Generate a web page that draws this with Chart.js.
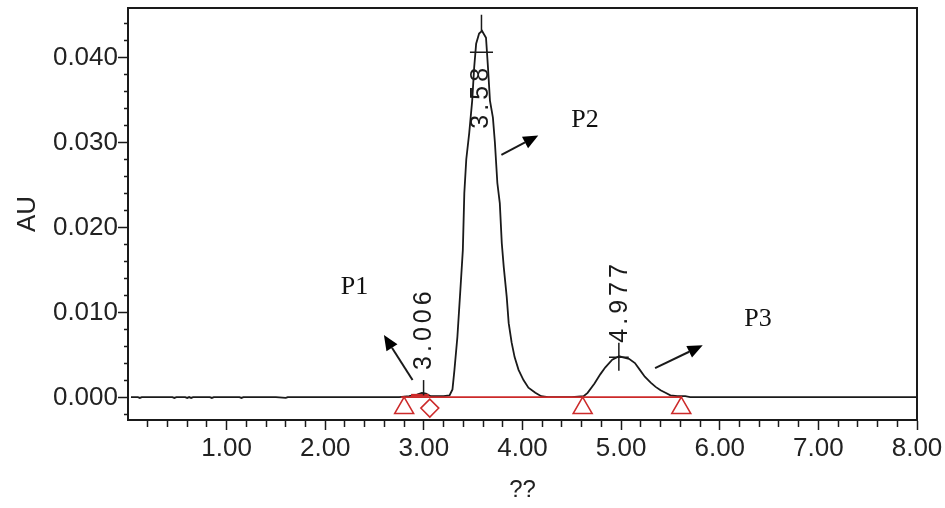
<!DOCTYPE html>
<html>
<head>
<meta charset="utf-8">
<script src="https://cdn.jsdelivr.net/npm/chart.js@4.4.0/dist/chart.umd.min.js"></script>
<style>
html,body{margin:0;padding:0;background:#fff;}
canvas{display:block;}
</style>
</head>
<body>
<canvas id="c" width="945" height="508"></canvas>
<script>
// ---------- data ----------
const timeMin = [0.03,0.10,0.12,0.14,0.45,0.47,0.49,0.58,0.60,0.62,0.64,0.66,0.83,0.85,0.87,1.13,1.15,1.17,1.50,1.60,1.62,2.00,2.50,2.75,2.85,2.93,2.98,3.02,3.07,3.12,3.20,3.26,3.29,3.31,3.34,3.37,3.395,3.41,3.43,3.46,3.49,3.51,3.53,3.56,3.59,3.63,3.65,3.67,3.70,3.72,3.745,3.77,3.79,3.81,3.84,3.86,3.89,3.92,3.96,4.01,4.06,4.13,4.19,4.26,4.50,4.62,4.66,4.73,4.79,4.84,4.91,4.98,5.04,5.08,5.14,5.19,5.24,5.30,5.35,5.40,5.45,5.50,5.57,5.65,5.70,8.00];
const absorbanceAU = [0,0,-0.0001,0,0,-0.0001,0,0,-0.0001,0,-0.0001,0,0,-0.0001,0,0,-0.0001,0,0,-0.0001,0,0,0,0,0.0001,0.0003,0.0005,0.0004,0.0001,0.0001,0.0001,0.0002,0.0009,0.0032,0.0071,0.0126,0.0173,0.0240,0.0280,0.0311,0.0349,0.0388,0.0416,0.0428,0.0431,0.0423,0.0388,0.0349,0.0329,0.0300,0.0252,0.0228,0.0181,0.0153,0.0118,0.0087,0.0064,0.0047,0.0032,0.0020,0.0011,0.0005,0.0001,0,0,0.0001,0.0005,0.0016,0.0027,0.0035,0.0044,0.0048,0.0046,0.0045,0.0040,0.0032,0.0024,0.0017,0.0012,0.0008,0.0005,0.0002,0.0001,0.0001,0,0];

const baselineTime = [2.77, 5.62];
const baselineAU = [0, 0];
const baselineBoldTime = [2.87, 3.05];
const baselineBoldAU = [0.0002, 0.0002];
const triangleTime = [2.80, 4.61, 5.61];
const triangleAU = [-0.0013, -0.0013, -0.0013];
const diamondTime = [3.06];
const diamondAU = [-0.0013];

const xTickValues = [1, 2, 3, 4, 5, 6, 7, 8];
const xTickLabels = ['1.00', '2.00', '3.00', '4.00', '5.00', '6.00', '7.00', '8.00'];
const xMinorStep = 0.2;
const yTickValues = [0, 0.01, 0.02, 0.03, 0.04];
const yTickLabels = ['0.000', '0.010', '0.020', '0.030', '0.040'];
const yMinorStep = 0.002;

const peakTagText = ['3.006', '3.58', '4.977'];
const peakTagTime = [3.00, 3.58, 4.99];
const peakTagAU = [0.0032, 0.0316, 0.0064];

const peakNameText = ['P1', 'P2', 'P3'];
const peakNameTime = [2.296, 4.633, 6.388];
const peakNameAU = [0.0129, 0.0326, 0.0092];

// ---------- helpers ----------
const near = (a, b) => Math.abs(a - b) < 1e-7;
const isMajor = (v, list) => list.some(t => near(t, v));

function buildTicks(min, max, step) {
  const out = [];
  const n0 = Math.ceil(min / step - 1e-9), n1 = Math.floor(max / step + 1e-9);
  for (let n = n0; n <= n1; n++) out.push({ value: +(n * step).toFixed(6) });
  return out;
}

const ink = '#1a1a1a';
const red = '#cc2a2a';

const annotations = {
  peakTicks: [
    { x: 2.997, y1: 0.0002, y2: 0.0020 },
    { x: 3.584, y1: 0.0431, y2: 0.0450, crossY: 0.0406, half: 0.117 },
    { x: 4.977, y1: 0.0031, y2: 0.0064, crossY: 0.0047, half: 0.10 }
  ],
  arrows: [
    { x1: 2.885, y1: 0.0020, x2: 2.595, y2: 0.0073 },
    { x1: 3.786, y1: 0.0285, x2: 4.160, y2: 0.0308 },
    { x1: 5.344, y1: 0.0034, x2: 5.827, y2: 0.0061 }
  ]
};

const overlay = {
  id: 'overlay',
  afterDraw(chart) {
    const { ctx, chartArea: a, scales: { x, y } } = chart;
    ctx.save();
    // frame
    ctx.strokeStyle = ink;
    ctx.lineWidth = 2;
    ctx.strokeRect(a.left, a.top, a.right - a.left, a.bottom - a.top);

    // peak apex marks
    ctx.lineWidth = 1.5;
    annotations.peakTicks.forEach(p => {
      const px = x.getPixelForValue(p.x);
      ctx.beginPath();
      ctx.moveTo(px, y.getPixelForValue(p.y1));
      ctx.lineTo(px, y.getPixelForValue(p.y2));
      if (p.crossY !== undefined) {
        const cy = y.getPixelForValue(p.crossY);
        ctx.moveTo(x.getPixelForValue(p.x - p.half), cy);
        ctx.lineTo(x.getPixelForValue(p.x + p.half), cy);
      }
      ctx.stroke();
    });

    // retention time tags (rotated)
    ctx.fillStyle = ink;
    ctx.font = '25px "Liberation Sans", Arial, sans-serif';
    if ('letterSpacing' in ctx) ctx.letterSpacing = '4px';
    ctx.textAlign = 'left';
    ctx.textBaseline = 'middle';
    peakTagText.forEach((t, i) => {
      ctx.save();
      ctx.translate(x.getPixelForValue(peakTagTime[i]), y.getPixelForValue(peakTagAU[i]));
      ctx.rotate(-Math.PI / 2);
      ctx.fillText(t, 0, 0);
      ctx.restore();
    });
    if ('letterSpacing' in ctx) ctx.letterSpacing = '0px';

    // arrows
    annotations.arrows.forEach(r => {
      const x1 = x.getPixelForValue(r.x1), y1 = y.getPixelForValue(r.y1);
      const x2 = x.getPixelForValue(r.x2), y2 = y.getPixelForValue(r.y2);
      const ang = Math.atan2(y2 - y1, x2 - x1);
      const L = 15, W = 6.5;
      const bx = x2 - L * Math.cos(ang), by = y2 - L * Math.sin(ang);
      ctx.strokeStyle = ink;
      ctx.lineWidth = 2;
      ctx.beginPath();
      ctx.moveTo(x1, y1);
      ctx.lineTo(bx, by);
      ctx.stroke();
      ctx.beginPath();
      ctx.moveTo(x2, y2);
      ctx.lineTo(bx + W * Math.sin(ang), by - W * Math.cos(ang));
      ctx.lineTo(bx - W * Math.sin(ang), by + W * Math.cos(ang));
      ctx.closePath();
      ctx.fillStyle = '#000';
      ctx.fill();
    });

    // peak names
    ctx.fillStyle = '#111';
    ctx.font = '26px "Liberation Serif", "Times New Roman", serif';
    ctx.textAlign = 'center';
    ctx.textBaseline = 'middle';
    peakNameText.forEach((t, i) => {
      ctx.fillText(t, x.getPixelForValue(peakNameTime[i]), y.getPixelForValue(peakNameAU[i]));
    });
    ctx.restore();
  }
};

const toXY = (xs, ys) => xs.map((v, i) => ({ x: v, y: ys[i] }));
const tickFont = { family: '"Liberation Sans", Arial, sans-serif', size: 26 };

new Chart(document.getElementById('c'), {
  type: 'line',
  data: {
    datasets: [
      { data: toXY(baselineBoldTime, baselineBoldAU), borderColor: red, borderWidth: 3, pointRadius: 0, order: 0 },
      { data: toXY(baselineTime, baselineAU), borderColor: red, borderWidth: 1.8, pointRadius: 0, order: 1 },
      { data: toXY(triangleTime, triangleAU), showLine: false, pointStyle: 'triangle', pointRadius: 11,
        pointBorderColor: red, pointBackgroundColor: 'rgba(0,0,0,0)', pointBorderWidth: 1.5, order: 2 },
      { data: toXY(diamondTime, diamondAU), showLine: false, pointStyle: 'rectRot', pointRadius: 9,
        pointBorderColor: red, pointBackgroundColor: 'rgba(0,0,0,0)', pointBorderWidth: 1.5, order: 3 },
      { data: toXY(timeMin, absorbanceAU), borderColor: ink, borderWidth: 1.8, pointRadius: 0, tension: 0, order: 4 }
    ]
  },
  options: {
    responsive: false,
    animation: false,
    devicePixelRatio: 1,
    layout: { autoPadding: false, padding: { top: 8, right: 28, left: 0, bottom: 0 } },
    plugins: { legend: { display: false }, tooltip: { enabled: false } },
    elements: { line: { fill: false } },
    scales: {
      x: {
        type: 'linear', min: 0, max: 8,
        afterBuildTicks: s => { s.ticks = buildTicks(xMinorStep, 8, xMinorStep); },
        afterFit: s => { s.height = 88; s.paddingLeft = 0; s.paddingRight = 0; },
        border: { display: true, color: ink, width: 2 },
        grid: {
          drawOnChartArea: false, drawTicks: true, tickLength: 10, tickWidth: 1.5, tickColor: ink,
          tickBorderDash: c => (c.tick && !isMajor(c.tick.value, xTickValues)) ? [6, 20] : []
        },
        ticks: {
          autoSkip: false, maxRotation: 0, minRotation: 0, padding: 3, color: '#222', font: tickFont,
          callback: v => { const i = xTickValues.findIndex(t => near(t, v)); return i >= 0 ? xTickLabels[i] : ''; }
        },
        title: { display: true, text: '??', color: '#222', padding: { top: 0, bottom: 3 },
          font: { family: '"Liberation Sans", Arial, sans-serif', size: 24 } }
      },
      y: {
        type: 'linear', min: -0.0027, max: 0.0458,
        afterBuildTicks: s => { s.ticks = buildTicks(-0.0027, 0.0458, yMinorStep); },
        afterFit: s => { s.width = 128; s.paddingTop = 0; s.paddingBottom = 0; },
        border: { display: true, color: ink, width: 2 },
        grid: {
          drawOnChartArea: false, drawTicks: true, tickLength: 10, tickWidth: 1.5, tickColor: ink,
          tickBorderDash: c => (c.tick && !isMajor(c.tick.value, yTickValues)) ? [0, 6, 4, 20] : []
        },
        ticks: {
          autoSkip: false, padding: 0, labelOffset: 1, color: '#222', font: tickFont,
          callback: v => { const i = yTickValues.findIndex(t => near(t, v)); return i >= 0 ? yTickLabels[i] : ''; }
        },
        title: { display: true, text: 'AU', color: '#222', padding: { top: 12, bottom: 0 },
          font: { family: '"Liberation Sans", Arial, sans-serif', size: 26 } }
      }
    }
  },
  plugins: [overlay]
});
</script>
</body>
</html>
